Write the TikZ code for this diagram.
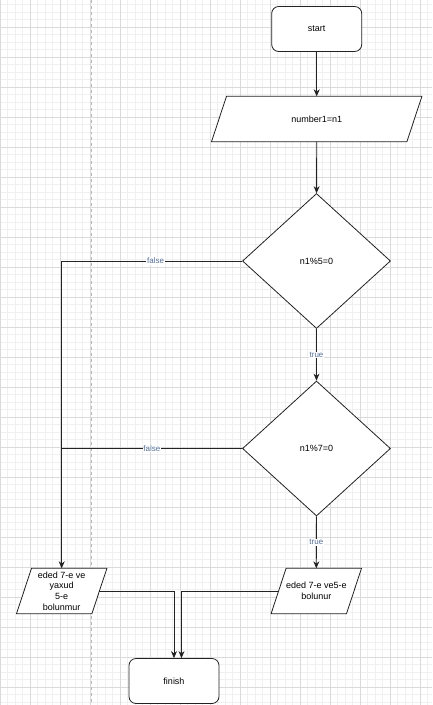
\documentclass[tikz,border=0pt]{standalone}
\usepackage{fontspec}
\setmainfont{Liberation Sans}
\usepackage{tikz}
\usetikzlibrary{shapes.geometric,arrows.meta,backgrounds}
\definecolor{gridminor}{RGB}{240,240,240}
\definecolor{gridmajor}{RGB}{218,218,218}
\definecolor{pageline}{RGB}{185,185,185}
\definecolor{edgeline}{RGB}{34,34,34}
\definecolor{labelblue}{RGB}{85,110,150}
\tikzset{%
    terminal/.style={draw=edgeline, fill=white, line width=0.8bp, rounded corners=7bp,
        minimum width=90bp, minimum height=45bp, inner sep=0pt},
    io/.style={rectangle, minimum height=45bp, inner sep=0pt, align=center},
    decision/.style={diamond, draw=edgeline, fill=white, line width=0.8bp,
        minimum width=148bp, minimum height=135bp, inner sep=0pt},
    link/.style={line width=0.8bp, color=edgeline},
    flow/.style={link, -{Stealth[length=7bp,width=6bp]}},
    edgelabel/.style={fill=white, text=labelblue, inner sep=0.6bp,
        font=\fontsize{8bp}{9bp}\selectfont}
}
% slanted frame round an io node
\newcommand{\ioframe}[2]{%
    \filldraw[fill=white, draw=edgeline, line width=0.8bp]
        ([xshift=#2]#1.north west) -- ([xshift=#2]#1.north east)
        -- ([xshift=-#2]#1.south east) -- ([xshift=-#2]#1.south west) -- cycle;}

\begin{document}
\begin{tikzpicture}[x=1bp, y=-1bp, font=\fontsize{9bp}{10.8bp}\selectfont]
    \useasboundingbox (0,0) rectangle (432,705);
%-----------------------------------------------
    \begin{scope}[on background layer]
    \foreach \x in {0,7.5,...,432} \draw[gridminor, line width=0.8bp] (\x,0) -- (\x,705);
    \foreach \y in {4.5,12,...,705} \draw[gridminor, line width=0.8bp] (0,\y) -- (432,\y);
    \foreach \x in {0,30,...,432} \draw[gridmajor, line width=0.8bp] (\x,0) -- (\x,705);
    \foreach \y in {27,57,...,705} \draw[gridmajor, line width=0.8bp] (0,\y) -- (432,\y);
    \draw[pageline, dashed, line width=0.8bp] (91,0) -- (91,705);
    \end{scope}
%-----------------------------------------------
    \node[terminal] (start) at (316.7,29) {start};
    \node[io, minimum width=195bp] (input) at (316.7,119) {number1=n1};
    \node[decision] (check5) at (316.5,261) {n1\%5=0};
    \node[decision] (check7) at (316.5,448.5) {n1\%7=0};
    \node[io, minimum width=75bp] (notdiv) at (61.7,591) {eded 7-e ve\\yaxud\\5-e\\bolunmur};
    \node[io, minimum width=75bp] (div) at (316.3,591) {eded 7-e ve5-e\\bolunur};
    \node[terminal] (finish) at (174,681) {finish};
    \begin{scope}[on background layer]
    \ioframe{input}{7.5bp}
    \ioframe{notdiv}{7.5bp}
    \ioframe{div}{7.5bp}
    \end{scope}
%-----------------------------------------------
    \draw[flow] (start) -- (input);
    \draw[flow] (input) -- (check5);
    \draw[flow] (check5) -- node[edgelabel]{true} (check7);
    \draw[flow] (check7) -- node[edgelabel]{true} (div);
    \draw[flow] (check5.west) -| node[edgelabel, pos=0.24]{false} (notdiv.north);
    \draw[link] (check7.west) -- node[edgelabel]{false} (check7.west -| notdiv.north);
%-----------------------------------------------
    \draw[flow] (notdiv.east) -| (finish.north);
    \draw[flow] (div.west) -| ([xshift=7.5bp]finish.north);
\end{tikzpicture}
\end{document}
